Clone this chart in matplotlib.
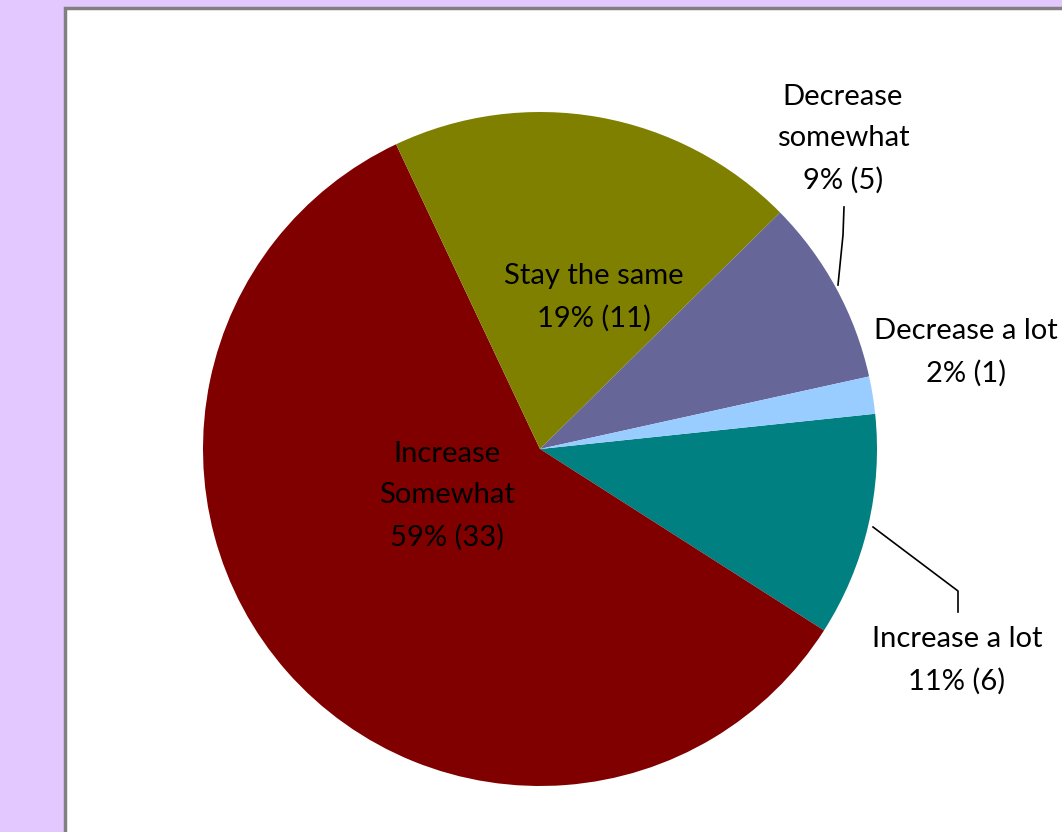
import matplotlib
matplotlib.use('Agg')
import matplotlib.pyplot as plt
from matplotlib.patches import Rectangle

# Data
labels = ['Increase a lot', 'Increase\nSomewhat', 'Stay the same', 'Decrease\nsomewhat', 'Decrease a lot']
counts = [6, 33, 11, 5, 1]
pcts = [11, 59, 19, 9, 2]
colors = ['#008080', '#800000', '#808000', '#666699', '#99CCFF']

W, H = 1062, 832
fig = plt.figure(figsize=(W / 100, H / 100), dpi=100)
fig.patch.set_facecolor('#E2C8FF')
ax = fig.add_axes([0, 0, 1, 1])

# white chart panel with gray border
ax.add_patch(Rectangle((65, -10), 1100, H - 8 + 10, facecolor='white',
                       edgecolor='#808080', linewidth=2.5, zorder=0))

cx, cy, r = 540, H - 449, 337
ax.pie(counts, colors=colors, startangle=6, counterclock=False,
       center=(cx, cy), radius=r, frame=True,
       wedgeprops=dict(linewidth=0))
ax.set_xlim(0, W)
ax.set_ylim(0, H)
ax.set_aspect('equal')
ax.axis('off')

font = dict(family=['Lato', 'DejaVu Sans'], fontsize=21, color='black',
            ha='center', va='center', linespacing=1.72)

# label positions (pixel coords from top-left)
pos = [(957, 660), (447, 496), (594, 297), (843, 139), (966, 352)]
for i, (x, y) in enumerate(pos):
    ax.text(x, H - y, f'{labels[i]}\n{pcts[i]}% ({counts[i]})', **font)

# leader lines
ax.plot([844, 843, 838], [H - 207, H - 235, H - 285], color='black', lw=1.2)
ax.plot([873, 958, 958], [H - 527, H - 591, H - 612], color='black', lw=1.2)

fig.savefig('out.png', dpi=100, facecolor=fig.get_facecolor())
